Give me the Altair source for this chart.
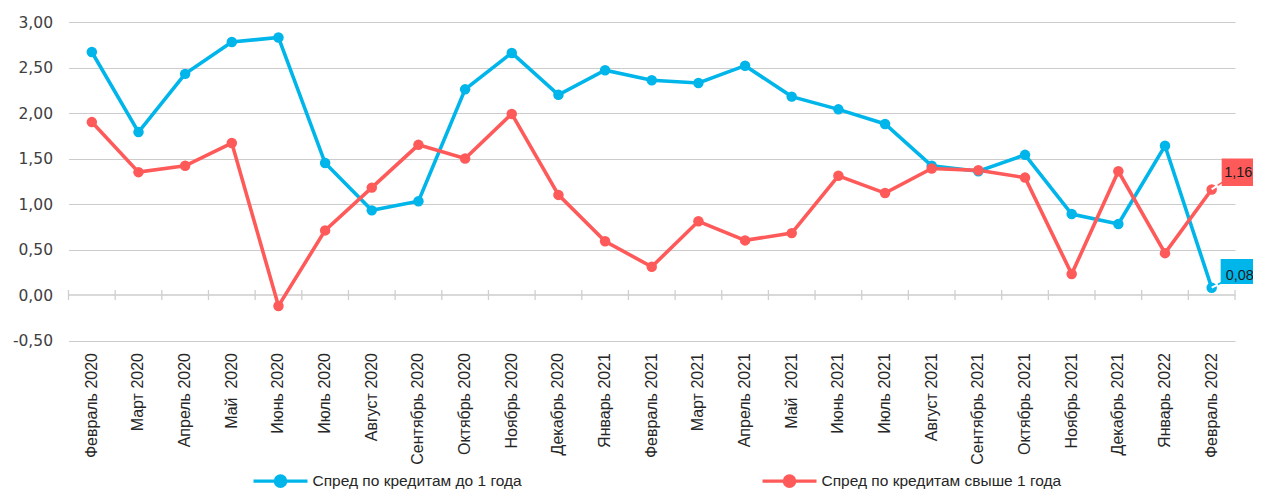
import altair as alt
import pandas as pd

months = ["Февраль 2020", "Март 2020", "Апрель 2020", "Май\u00a0\u00a02020", "Июнь 2020",
          "Июль 2020", "Август 2020", "Сентябрь 2020", "Октябрь 2020", "Ноябрь 2020",
          "Декабрь 2020", "Январь 2021", "Февраль 2021", "Март 2021", "Апрель 2021",
          "Май\u00a0\u00a02021", "Июнь 2021", "Июль 2021", "Август 2021", "Сентябрь 2021",
          "Октябрь 2021", "Ноябрь 2021", "Декабрь 2021", "Январь 2022", "Февраль 2022"]
spread_short = [2.67, 1.79, 2.43, 2.78, 2.83, 1.45, 0.93, 1.03, 2.26, 2.66,
                2.20, 2.47, 2.36, 2.33, 2.52, 2.18, 2.04, 1.88, 1.42, 1.36,
                1.54, 0.89, 0.78, 1.64, 0.08]
spread_long = [1.90, 1.35, 1.42, 1.67, -0.12, 0.71, 1.18, 1.65, 1.50, 1.99,
               1.10, 0.59, 0.31, 0.81, 0.60, 0.68, 1.31, 1.12, 1.39, 1.37,
               1.29, 0.23, 1.36, 0.46, 1.16]
series = ["Спред по кредитам до 1 года", "Спред по кредитам свыше 1 года"]
colors = ["#00B5EA", "#FF5A5A"]
y_ticks = [-0.5, 0, 0.5, 1, 1.5, 2, 2.5, 3]

rows = []
for name, vals in zip(series, [spread_short, spread_long]):
    for m, v in zip(months, vals):
        rows.append({"month": m, "series": name, "value": v,
                     "label": f"{v:.2f}".replace(".", ",")})
df = pd.DataFrame(rows)
last = df[df["month"] == months[-1]]
mdf = pd.DataFrame({"month": months})

FONT = "Liberation Sans"

x_axis = alt.Axis(title=None, labelAngle=270, domain=False, ticks=False, grid=False,
                  labelPadding=12, labelFont=FONT, labelFontSize=16, labelColor="#262626")
x_scale = alt.Scale(type="band", domain=months, paddingInner=0, paddingOuter=0)
x = alt.X("month:N", sort=months, scale=x_scale, bandPosition=0.5, axis=x_axis)
y = alt.Y("value:Q", scale=alt.Scale(domain=[-0.5, 3], nice=False, zero=False),
          axis=alt.Axis(values=y_ticks, title=None, domain=False, ticks=False,
                        labelPadding=16, labelFont="DejaVu Sans", labelFontSize=15.5,
                        labelColor="#404040", gridColor="#cccccc", gridWidth=1,
                        labelExpr="replace(replace(format(datum.value, '.2f'), '.', ','), '\u2212', '-')"))

sym_path = ("M-1,0L1,0M-0.19,0a0.19,0.19 0 1,0 0.38,0a0.19,0.19 0 1,0 -0.38,0")
color = alt.Color("series:N", scale=alt.Scale(domain=series, range=colors),
                  legend=alt.Legend(title=None, orient="none", legendX=183, legendY=430,
                                    direction="horizontal", columns=2, columnPadding=233,
                                    symbolType=sym_path, symbolSize=2916,
                                    symbolStrokeWidth=3.3, labelFont=FONT, labelFontSize=15.5,
                                    labelColor="#262626", labelOffset=3, labelLimit=0))

base = alt.Chart(df)

zero_line = alt.Chart(pd.DataFrame({"v": [0]})).mark_rule(
    color="#d9d9d9", strokeWidth=2).encode(y=alt.Y("v:Q"))

ticks = alt.Chart(mdf).mark_point(shape="M0,-1L0,1", size=100, filled=False,
                                  strokeWidth=1.3, color="#cfcfcf", opacity=1).encode(
    x=alt.X("month:N", sort=months, bandPosition=0), y=alt.datum(0))
tick_end = alt.Chart(mdf.tail(1)).mark_point(shape="M0,-1L0,1", size=100, filled=False,
                                             strokeWidth=1.3, color="#cfcfcf", opacity=1).encode(
    x=alt.X("month:N", sort=months, bandPosition=1), y=alt.datum(0))

lines = base.mark_line(strokeWidth=3.6).encode(x=x, y=y, color=color)
points = base.mark_circle(size=110, opacity=1).encode(x=x, y=y, color=color)

lx = alt.X("month:N", sort=months, bandPosition=0.5)
ly = alt.Y("value:Q")
last_short = alt.Chart(last).transform_filter(alt.datum.series == series[0])
last_long = alt.Chart(last).transform_filter(alt.datum.series == series[1])

lead_red_w = last_long.mark_point(shape="M0,0L0.6,-0.4", size=400, filled=False,
                                  strokeWidth=2, color="white", opacity=1).encode(x=lx, y=ly)
lead_red_c = last_long.mark_point(shape="M0.6,-0.4L1.05,-0.7", size=400, filled=False,
                                  strokeWidth=1.5, color=colors[1], opacity=1).encode(x=lx, y=ly)
lead_blue_w = last_short.mark_point(shape="M0,0L0.62,-0.32", size=400, filled=False,
                                    strokeWidth=2, color="white", opacity=1).encode(x=lx, y=ly)
lead_blue_c = last_short.mark_point(shape="M0.62,-0.32L1.0,-0.52", size=400, filled=False,
                                    strokeWidth=1.5, color=colors[0], opacity=1).encode(x=lx, y=ly)

box_red = last_long.mark_point(shape="M1.0,-3.1L4.4,-3.1L4.4,-0.34L1.0,-0.34Z", size=400,
                               filled=True, color=colors[1], opacity=1, strokeWidth=0).encode(x=lx, y=ly)
box_blue = last_short.mark_point(shape="M0.9,-2.87L4.6,-2.87L4.6,-0.37L0.9,-0.37Z", size=400,
                                 filled=True, color=colors[0], opacity=1, strokeWidth=0).encode(x=lx, y=ly)
txt_red = last_long.mark_text(align="left", baseline="middle", dx=12.5, dy=-16.5, font=FONT,
                              fontSize=14.5, color="#1a1a1a").encode(x=lx, y=ly, text="label:N")
txt_blue = last_short.mark_text(align="left", baseline="middle", dx=14, dy=-12, font=FONT,
                                fontSize=14.5, color="#1a1a1a").encode(x=lx, y=ly, text="label:N")

chart = alt.layer(zero_line, ticks, tick_end, lines, points,
                  lead_red_w, lead_red_c, lead_blue_w, lead_blue_c,
                  box_red, box_blue, txt_red, txt_blue).properties(
    width=1166.5, height=318.5,
    autosize=alt.AutoSizeParams(type="none"),
    padding={"left": 60.5, "top": 14, "right": 18, "bottom": 149},
    background="white",
).configure_view(stroke=None)

chart.save("out.html", embed_options={"renderer": "svg", "actions": False})
